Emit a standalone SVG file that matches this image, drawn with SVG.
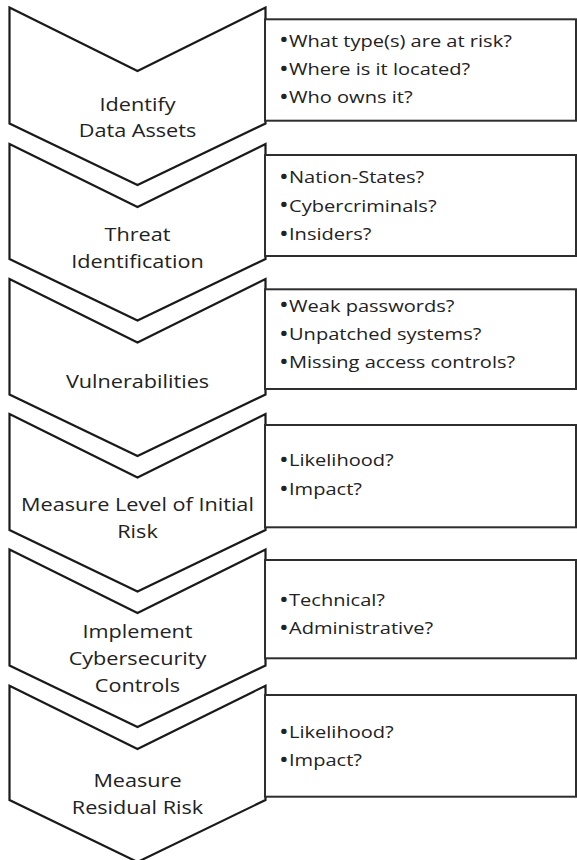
<svg xmlns="http://www.w3.org/2000/svg" width="577" height="860" viewBox="0 0 577 860">
  <style>
    .chev { fill: #ffffff; stroke: #1a1a1a; stroke-width: 2.2; stroke-linejoin: miter; }
    .box { fill: #ffffff; stroke: #2e2e2e; stroke-width: 2; }
    .label { font-family: "Open Sans", "Liberation Sans", sans-serif; font-size: 19px; fill: #222222; text-anchor: middle; }
    .items { font-family: "Open Sans", "Liberation Sans", sans-serif; font-size: 17px; fill: #222222; }
    .dot { font-size: 22px; }
  </style>
  <rect width="577" height="860" fill="#ffffff"/>

  <!-- Step 1 -->
  <g id="step1">
    <polygon class="chev" points="9.5,7.5 137.5,71 265.5,7.5 265.5,123.5 137.5,185 9.5,123.5"/>
    <rect class="box" x="265" y="19.3" width="311" height="101.4"/>
    <text class="label" transform="translate(137.5 0) scale(1.14 1)"><tspan x="0" y="111.5">Identify</tspan><tspan x="0" y="137.5">Data Assets</tspan></text>
    <text class="items" transform="translate(289 0) scale(1.18 1)">
      <tspan class="dot" x="-8.5" y="47.5">•</tspan><tspan x="0" y="46.7">What type(s) are at risk?</tspan>
      <tspan class="dot" x="-8.5" y="75.8">•</tspan><tspan x="0" y="75">Where is it located?</tspan>
      <tspan class="dot" x="-8.5" y="104.1">•</tspan><tspan x="0" y="103.3">Who owns it?</tspan>
    </text>
  </g>

  <!-- Step 2 -->
  <g id="step2">
    <polygon class="chev" points="9.5,144 137.5,207 265.5,144 265.5,259 137.5,320.5 9.5,259"/>
    <rect class="box" x="265" y="155" width="311" height="101"/>
    <text class="label" transform="translate(137.5 0) scale(1.14 1)"><tspan x="0" y="241">Threat</tspan><tspan x="0" y="268">Identification</tspan></text>
    <text class="items" transform="translate(289 0) scale(1.18 1)">
      <tspan class="dot" x="-8.5" y="184.1">•</tspan><tspan x="0" y="183.3">Nation-States?</tspan>
      <tspan class="dot" x="-8.5" y="212.5">•</tspan><tspan x="0" y="211.7">Cybercriminals?</tspan>
      <tspan class="dot" x="-8.5" y="240.8">•</tspan><tspan x="0" y="240">Insiders?</tspan>
    </text>
  </g>

  <!-- Step 3 -->
  <g id="step3">
    <polygon class="chev" points="9.5,279 137.5,342.5 265.5,279 265.5,394.5 137.5,456 9.5,394.5"/>
    <rect class="box" x="265" y="289.3" width="311" height="99.7"/>
    <text class="label" transform="translate(137.5 0) scale(1.14 1)"><tspan x="0" y="388.3">Vulnerabilities</tspan></text>
    <text class="items" transform="translate(289 0) scale(1.18 1)">
      <tspan class="dot" x="-8.5" y="312.5">•</tspan><tspan x="0" y="311.7">Weak passwords?</tspan>
      <tspan class="dot" x="-8.5" y="340.8">•</tspan><tspan x="0" y="340">Unpatched systems?</tspan>
      <tspan class="dot" x="-8.5" y="369.1">•</tspan><tspan x="0" y="368.3">Missing access controls?</tspan>
    </text>
  </g>

  <!-- Step 4 -->
  <g id="step4">
    <polygon class="chev" points="9.5,414 137.5,477.5 265.5,414 265.5,530 137.5,591.5 9.5,530"/>
    <rect class="box" x="265" y="425" width="311" height="102.3"/>
    <text class="label" transform="translate(137.5 0) scale(1.14 1)"><tspan x="0" y="510.7">Measure Level of Initial</tspan><tspan x="0" y="537.7">Risk</tspan></text>
    <text class="items" transform="translate(289 0) scale(1.18 1)">
      <tspan class="dot" x="-8.5" y="467.3">•</tspan><tspan x="0" y="466.5">Likelihood?</tspan>
      <tspan class="dot" x="-8.5" y="495.8">•</tspan><tspan x="0" y="495">Impact?</tspan>
    </text>
  </g>

  <!-- Step 5 -->
  <g id="step5">
    <polygon class="chev" points="9.5,549.5 137.5,613 265.5,549.5 265.5,665.5 137.5,727 9.5,665.5"/>
    <rect class="box" x="265" y="560" width="311" height="98.3"/>
    <text class="label" transform="translate(137.5 0) scale(1.14 1)"><tspan x="0" y="638.3">Implement</tspan><tspan x="0" y="665">Cybersecurity</tspan><tspan x="0" y="691.7">Controls</tspan></text>
    <text class="items" transform="translate(289 0) scale(1.18 1)">
      <tspan class="dot" x="-8.5" y="607.3">•</tspan><tspan x="0" y="606.5">Technical?</tspan>
      <tspan class="dot" x="-8.5" y="634.8">•</tspan><tspan x="0" y="634">Administrative?</tspan>
    </text>
  </g>

  <!-- Step 6 -->
  <g id="step6">
    <polygon class="chev" points="9.5,685.7 137.5,749 265.5,685.7 265.5,800 137.5,862 9.5,800"/>
    <rect class="box" x="265" y="695" width="311" height="101.7"/>
    <text class="label" transform="translate(137.5 0) scale(1.14 1)"><tspan x="0" y="786.7">Measure</tspan><tspan x="0" y="814">Residual Risk</tspan></text>
    <text class="items" transform="translate(289 0) scale(1.18 1)">
      <tspan class="dot" x="-8.5" y="738.8">•</tspan><tspan x="0" y="738">Likelihood?</tspan>
      <tspan class="dot" x="-8.5" y="767.3">•</tspan><tspan x="0" y="766.5">Impact?</tspan>
    </text>
  </g>
</svg>
